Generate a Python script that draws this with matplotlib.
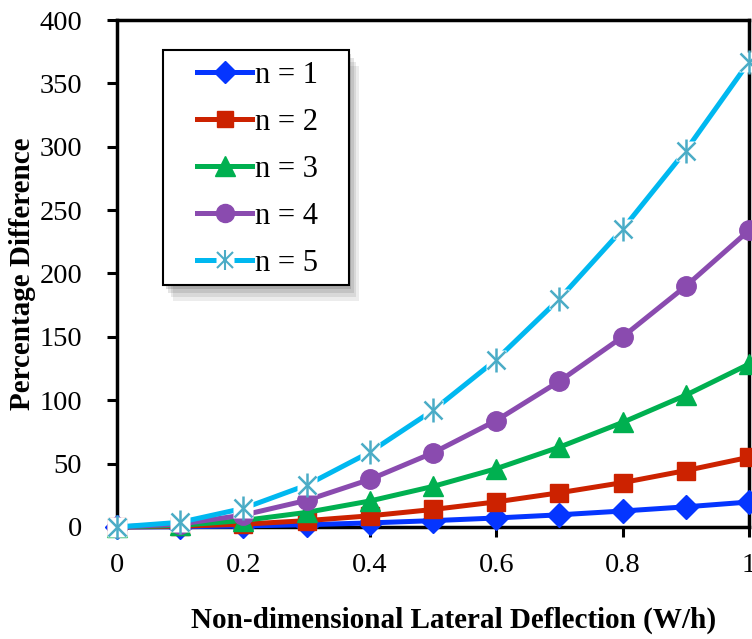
import matplotlib
matplotlib.use('Agg')
import matplotlib.pyplot as plt
from matplotlib.lines import Line2D
from matplotlib.patches import Rectangle
import numpy as np

# deflection W/h and percentage difference for each n
w = [0.0, 0.1, 0.2, 0.3, 0.4, 0.5, 0.6, 0.7, 0.8, 0.9, 1.0]
n1 = [0, 0.2, 0.8, 1.8, 3.2, 5.0, 7.1, 9.6, 12.6, 15.9, 19.7]
n2 = [0, 0.6, 2.2, 5.0, 8.8, 13.8, 19.8, 27.0, 35.0, 44.5, 55.0]
n3 = [0, 1.3, 5.1, 11.5, 20.5, 32.0, 46.0, 63.0, 82.5, 104.0, 128.5]
n4 = [0, 2.3, 9.4, 21.0, 37.5, 58.5, 84.0, 115.0, 150.0, 190.0, 234.0]
n5 = [0, 3.7, 14.7, 33.0, 59.0, 92.0, 132.0, 180.0, 235.0, 297.0, 367.0]
labels = ['n = 1', 'n = 2', 'n = 3', 'n = 4', 'n = 5']

plt.rcParams['font.family'] = ['Liberation Serif', 'DejaVu Serif']

fig = plt.figure(figsize=(7.52, 6.39), dpi=100)
ax = fig.add_axes([0.1556, 0.1753, 0.8404, 0.7934])

lw = 3.6
ax.plot(w, n1, color='#0535FF', lw=lw, marker='D', ms=12, mec='#0535FF',
        label=labels[0], clip_on=False, zorder=3)
ax.plot(w, n2, color='#CC2200', lw=lw, marker='s', ms=12.5, mec='#CC2200',
        label=labels[1], clip_on=False, zorder=3)
ax.plot(w, n3, color='#00B050', lw=lw, marker='^', ms=15, mec='#00B050',
        label=labels[2], clip_on=False, zorder=3)
ax.plot(w, n4, color='#8A4BAF', lw=lw, marker='o', ms=14, mec='#8A4BAF',
        label=labels[3], clip_on=False, zorder=3)

# n = 5: asterisk markers on a white square, line broken around them
ax.plot(w, n5, color='#00B8F0', lw=lw, clip_on=False, zorder=4)
ax.plot(w, n5, ls='none', marker='s', ms=15, mfc='white', mec='none',
        clip_on=False, zorder=5)
ax.plot(w, n5, ls='none', marker='x', ms=13, mew=1.8, color='#4BACC6',
        clip_on=False, zorder=6)
ax.plot(w, n5, ls='none', marker='|', ms=17, mew=1.8, color='#4BACC6',
        clip_on=False, zorder=6)

ax.set_xlim(0, 1)
ax.set_ylim(0, 400)
ax.set_xticks(np.arange(0, 1.01, 0.2))
ax.set_xticklabels(['0', '0.2', '0.4', '0.6', '0.8', '1'])
ax.set_yticks(np.arange(0, 401, 50))
ax.tick_params(direction='out', length=7, width=2.2, labelsize=20.5)
ax.tick_params(axis='x', pad=12)
ax.tick_params(axis='y', pad=18)
for s in ax.spines.values():
    s.set_linewidth(2.5)

ax.set_xlabel('Non-dimensional Lateral Deflection (W/h)', fontsize=21,
              fontweight='bold')
ax.set_ylabel('Percentage Difference', fontsize=21, fontweight='bold')
ax.xaxis.set_label_coords(0.533, -0.157)
ax.yaxis.set_label_coords(-0.128, 0.5)

# legend box with a soft shadow
for k, a in enumerate([0.10, 0.12, 0.15, 0.2]):
    d = 0.004 * (4 - k)
    ax.add_patch(Rectangle((0.0728 + d, 0.477 - 2 * d), 0.294, 0.464,
                           transform=ax.transAxes, facecolor='0.3',
                           edgecolor='none', alpha=a, zorder=7))
ax.add_patch(Rectangle((0.0728, 0.477), 0.294, 0.464,
                       transform=ax.transAxes, facecolor='white',
                       edgecolor='black', lw=1.5, zorder=8))

handles = [
    Line2D([], [], color='#0535FF', lw=lw, marker='D', ms=11),
    Line2D([], [], color='#CC2200', lw=lw, marker='s', ms=12),
    Line2D([], [], color='#00B050', lw=lw, marker='^', ms=14),
    Line2D([], [], color='#8A4BAF', lw=lw, marker='o', ms=13),
    (Line2D([], [], color='#00B8F0', lw=lw),
     Line2D([], [], ls='none', marker='s', ms=13, mfc='white', mec='none'),
     Line2D([], [], ls='none', marker='x', ms=11, mew=1.5, color='#4BACC6'),
     Line2D([], [], ls='none', marker='|', ms=14, mew=1.5, color='#4BACC6')),
]
leg = ax.legend(handles, labels, loc='upper left',
                bbox_to_anchor=(0.1266, 0.919), fontsize=22, frameon=False,
                handlelength=1.8, handletextpad=0.1, labelspacing=0.59,
                borderpad=0, borderaxespad=0)
leg.set_zorder(9)

fig.savefig('out.png', dpi=100)
